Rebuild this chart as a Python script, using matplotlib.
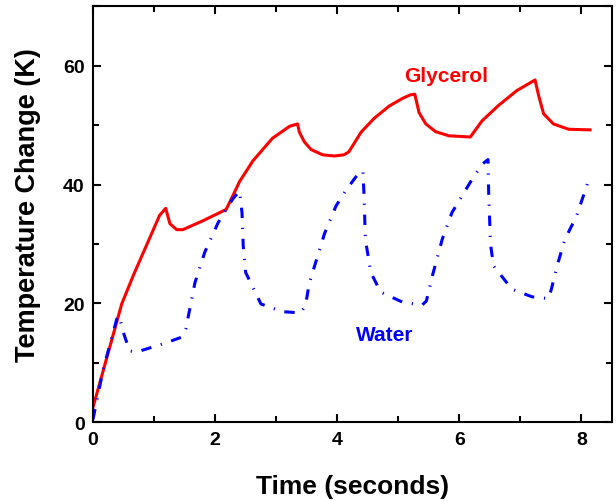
import matplotlib
matplotlib.use("Agg")
import matplotlib.pyplot as plt
from matplotlib.ticker import MultipleLocator

plt.rcParams['font.family'] = ['Liberation Sans', 'DejaVu Sans']
plt.rcParams['font.weight'] = 'bold'

# Glycerol temperature trace (s, K)
glycerol_t = [0.0, 0.47, 0.66, 1.09, 1.19, 1.26, 1.37, 1.47, 1.80, 2.18, 2.29, 2.40,
              2.62, 2.94, 3.22, 3.35, 3.38, 3.46, 3.57, 3.76, 3.95, 4.11, 4.19, 4.39,
              4.60, 4.85, 5.07, 5.20, 5.27, 5.34, 5.45, 5.61, 5.83, 6.18, 6.37, 6.64,
              6.94, 7.24, 7.30, 7.38, 7.54, 7.79, 8.14]
glycerol_k = [2.5, 19.9, 24.7, 34.8, 36.0, 33.4, 32.4, 32.4, 33.9, 35.8, 38.1, 40.5,
              44.0, 47.8, 49.8, 50.2, 48.8, 47.2, 45.9, 45.0, 44.8, 45.0, 45.5, 48.8,
              51.1, 53.2, 54.5, 55.1, 55.2, 52.1, 50.2, 48.9, 48.2, 48.0, 50.7, 53.3,
              55.8, 57.6, 54.9, 51.9, 50.2, 49.3, 49.2]

# Water temperature trace (s, K)
water_t = [0.0, 0.17, 0.39, 0.43, 0.49, 0.60, 0.71, 1.15, 1.45, 1.52, 1.67, 1.83,
           2.05, 2.29, 2.40, 2.44, 2.46, 2.50, 2.75, 3.10, 3.40, 3.48, 3.54, 3.79,
           3.98, 4.14, 4.35, 4.42, 4.44, 4.46, 4.55, 4.71, 5.07, 5.39, 5.46, 5.56,
           5.72, 5.88, 6.18, 6.37, 6.47, 6.48, 6.51, 6.56, 6.86, 7.19, 7.46, 7.51,
           7.60, 7.73, 7.92, 8.11]
water_k = [0.5, 9.0, 17.4, 17.9, 15.3, 12.0, 11.8, 13.2, 14.3, 15.7, 23.5, 28.6,
           33.6, 37.6, 38.9, 35.3, 29.7, 25.2, 19.9, 18.6, 18.4, 19.6, 23.3, 31.7,
           36.4, 39.0, 41.9, 42.3, 38.0, 30.8, 25.2, 21.9, 20.2, 19.7, 20.4, 24.7,
           30.8, 35.3, 40.4, 43.4, 44.2, 38.7, 30.0, 26.3, 22.4, 21.1, 20.8, 22.5,
           26.3, 30.8, 34.7, 40.5]

fig = plt.figure(figsize=(6.16, 5.02), dpi=100)
ax = fig.add_axes([0.151, 0.157, 0.8425, 0.8285])

ax.plot(glycerol_t, glycerol_k, color='#ff0000', lw=2.2, solid_joinstyle='round')
ax.plot(water_t, water_k, color='#0000ff', lw=2.2,
        linestyle=(0, (3.4, 3.2, 0.4, 3.2)))

ax.text(5.78, 58.4, 'Glycerol', color='#ff0000', fontsize=15, fontweight='bold',
        ha='center', va='center')
ax.text(4.77, 14.7, 'Water', color='#0000ff', fontsize=15, fontweight='bold',
        ha='center', va='center')

ax.set_xlim(0, 8.5)
ax.set_ylim(0, 70)
ax.xaxis.set_major_locator(MultipleLocator(2))
ax.xaxis.set_minor_locator(MultipleLocator(1))
ax.yaxis.set_major_locator(MultipleLocator(20))
ax.yaxis.set_minor_locator(MultipleLocator(10))
ax.tick_params(which='both', direction='in', top=True, right=True, width=1.5)
ax.tick_params(which='major', length=6, labelsize=14, pad=6)
ax.tick_params(which='minor', length=4)
for lab in ax.get_xticklabels() + ax.get_yticklabels():
    lab.set_fontweight('bold')
for s in ax.spines.values():
    s.set_linewidth(1.5)

ax.set_xlabel('Time (seconds)', fontsize=19, fontweight='bold')
ax.set_ylabel('Temperature Change (K)', fontsize=19.5, fontweight='bold')
ax.xaxis.set_label_coords(0.5, -0.153)
ax.xaxis.label.set_va('center')
ax.yaxis.set_label_coords(-0.125, 0.525)
ax.yaxis.label.set_va('center')

fig.savefig('out.png', dpi=100)
